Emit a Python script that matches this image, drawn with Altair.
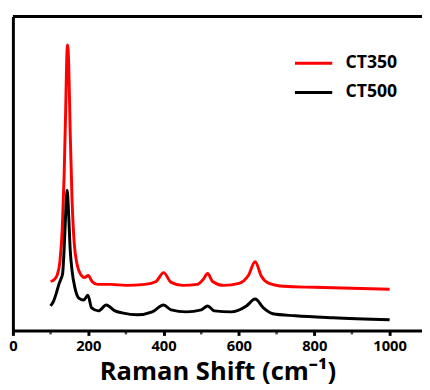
import altair as alt
import pandas as pd

# Raman shift (cm-1) and intensity (a.u.)
ct350_x = [100, 110, 118, 125, 131, 136, 140, 143, 145, 148, 152, 157, 163, 170, 180, 190, 200, 210,
           225, 260, 300, 350, 380, 400, 420, 450, 490, 505, 517, 530, 560, 600, 625, 643, 660, 680,
           720, 800, 900, 1000]
ct350_y = [50, 52, 57, 71, 103, 158, 223, 278, 291, 273, 203, 133, 88, 68, 57, 54, 56, 50,
           47, 47, 46, 47, 50, 59, 49, 46, 47, 52, 58, 50, 46, 48, 56, 70, 55, 48,
           45, 44, 43, 42]

ct500_x = [100, 108, 116, 122, 128, 132, 136, 140, 144, 148, 152, 157, 165, 175, 188, 199, 209, 227,
           248, 271, 290, 330, 370, 400, 420, 460, 500, 517, 535, 580, 620, 643, 665, 690, 750, 850, 1000]
ct500_y = [25, 30, 39, 47, 53, 58, 83, 118, 143, 118, 83, 61, 43, 33, 31, 36, 23, 20,
           26, 20, 18, 16, 19, 26, 21, 19, 21, 25, 20, 19, 25, 32, 23, 17, 15, 13, 11]

series_names = ["CT350", "CT500"]
series_colors = ["#ff0000", "#000000"]
major_ticks = [0, 200, 400, 600, 800, 1000]
minor_ticks = [100, 300, 500, 700, 900]

df = pd.concat([
    pd.DataFrame({"x": ct350_x, "y": ct350_y, "s": "CT350"}),
    pd.DataFrame({"x": ct500_x, "y": ct500_y, "s": "CT500"}),
])

W, H = 417, 320
FONT = "Open Sans"
xscale = alt.Scale(domain=[0, 1086], nice=False, zero=False)

lines = alt.Chart(df).mark_line(strokeWidth=3, interpolate="monotone").encode(
    x=alt.X("x:Q", scale=xscale,
            axis=alt.Axis(values=major_ticks, title="Raman Shift (cm⁻¹)",
                          format="d", grid=False, domainWidth=3, domainColor="black",
                          labelFlush=False,
                          ticks=True, tickColor="black", tickWidth=3, tickSize=5,
                          labelFont=FONT, labelFontWeight="bold", labelFontSize=15, labelColor="black",
                          labelPadding=3,
                          titleFont=FONT, titleFontWeight="bold", titleFontSize=26, titleColor="black",
                          titlePadding=6)),
    y=alt.Y("y:Q", scale=alt.Scale(domain=[0, 320], nice=False),
            axis=alt.Axis(title=None, labels=False, ticks=False, grid=False,
                          domainWidth=3, domainColor="black")),
    color=alt.Color("s:N", scale=alt.Scale(domain=series_names, range=series_colors),
                    legend=alt.Legend(title=None, orient="none", legendX=286, legendY=27,
                                      symbolType="stroke", symbolSize=1444, symbolStrokeWidth=3,
                                      labelFont=FONT, labelFontWeight="bold", labelFontSize=18,
                                      labelColor="black", labelOffset=12, rowPadding=-2, padding=0)),
)

minor = alt.Chart(pd.DataFrame({"m": minor_ticks})).mark_tick(
    color="black", thickness=2.5, size=3, orient="vertical"
).encode(
    x=alt.X("m:Q", scale=xscale),
    y=alt.value(H + 2.5),
)

top = alt.Chart(pd.DataFrame({"a": [0]})).mark_rule(color="black", strokeWidth=3).encode(
    x=alt.value(0), x2=alt.value(W), y=alt.value(0)
)

chart = alt.layer(lines, minor, top).properties(
    width=W, height=H,
    autosize=alt.AutoSizeParams(type="none"),
    padding={"left": 5, "top": 5, "right": 0, "bottom": 60},
).configure_view(stroke=None)

chart.save("out.html", embed_options={"renderer": "svg", "actions": False})
